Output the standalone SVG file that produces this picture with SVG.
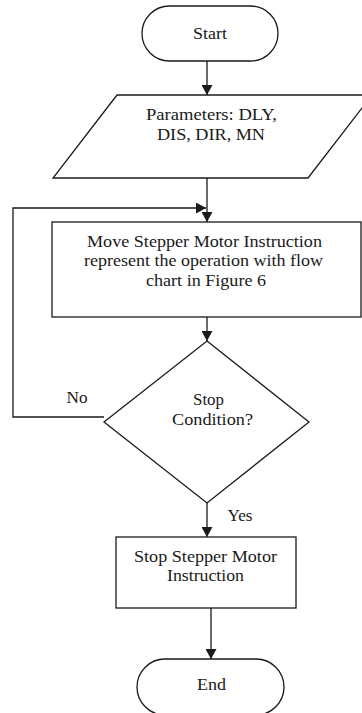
<svg xmlns="http://www.w3.org/2000/svg" width="362" height="713" viewBox="0 0 362 713">
<style>
.s{fill:#fff;stroke:#1a1a1a;stroke-width:1.3}
.c{fill:none;stroke:#1a1a1a;stroke-width:1.3}
.t{font-family:'Liberation Serif','DejaVu Serif','Times New Roman',Times,serif;font-size:16px;fill:#1a1a1a;text-anchor:middle}
</style>
<defs>
<marker id="ah" markerUnits="userSpaceOnUse" markerWidth="11" markerHeight="11" viewBox="0 0 11 11" refX="10" refY="5.5" orient="auto">
<path d="M0,0 L10,5.5 L0,11 Z" fill="#1a1a1a"/>
</marker>
</defs>
<rect width="362" height="713" fill="#fff"/>
<g id="connectors">
<line class="c" x1="207" y1="61" x2="207" y2="95" marker-end="url(#ah)"/>
<line class="c" x1="207" y1="178" x2="207" y2="222" marker-end="url(#ah)"/>
<line class="c" x1="207" y1="317" x2="207" y2="341" marker-end="url(#ah)"/>
<polyline class="c" points="104,417 13,417 13,208 206,208" marker-end="url(#ah)"/>
<line class="c" x1="207" y1="503" x2="207" y2="537" marker-end="url(#ah)"/>
<line class="c" x1="211" y1="608" x2="211" y2="659" marker-end="url(#ah)"/>
<text class="t" x="77" y="403" textLength="21" lengthAdjust="spacingAndGlyphs">No</text>
<text class="t" x="240" y="521" textLength="25" lengthAdjust="spacingAndGlyphs">Yes</text>
</g>
<g id="start">
<rect class="s" x="142" y="6" width="136" height="55" rx="27.5"/>
<text class="t" x="210" y="39" textLength="34" lengthAdjust="spacingAndGlyphs">Start</text>
</g>
<g id="params">
<polygon class="s" points="117,95 372,95 308,178 53,178"/>
<text class="t" x="211.5" y="120" textLength="131" lengthAdjust="spacingAndGlyphs">Parameters: DLY,</text>
<text class="t" x="211" y="140" textLength="108" lengthAdjust="spacingAndGlyphs">DIS, DIR, MN</text>
</g>
<g id="move">
<rect class="s" x="52" y="222" width="309" height="95"/>
<text class="t" x="204.5" y="247" textLength="235" lengthAdjust="spacingAndGlyphs">Move Stepper Motor Instruction</text>
<text class="t" x="203.5" y="266" textLength="239" lengthAdjust="spacingAndGlyphs">represent the operation with flow</text>
<text class="t" x="206" y="286" textLength="120" lengthAdjust="spacingAndGlyphs">chart in Figure 6</text>
</g>
<g id="decision">
<polygon class="s" points="207,341 309,422 207,503 104,422"/>
<text class="t" x="208.5" y="405" textLength="31" lengthAdjust="spacingAndGlyphs">Stop</text>
<text class="t" x="212.5" y="425" textLength="81" lengthAdjust="spacingAndGlyphs">Condition?</text>
</g>
<g id="stop">
<rect class="s" x="116" y="537" width="180" height="71"/>
<text class="t" x="205.5" y="562" textLength="143" lengthAdjust="spacingAndGlyphs">Stop Stepper Motor</text>
<text class="t" x="205.5" y="581" textLength="77" lengthAdjust="spacingAndGlyphs">Instruction</text>
</g>
<g id="end">
<rect class="s" x="137" y="659" width="147" height="56" rx="28"/>
<text class="t" x="211.5" y="690" textLength="29" lengthAdjust="spacingAndGlyphs">End</text>
</g>
</svg>
